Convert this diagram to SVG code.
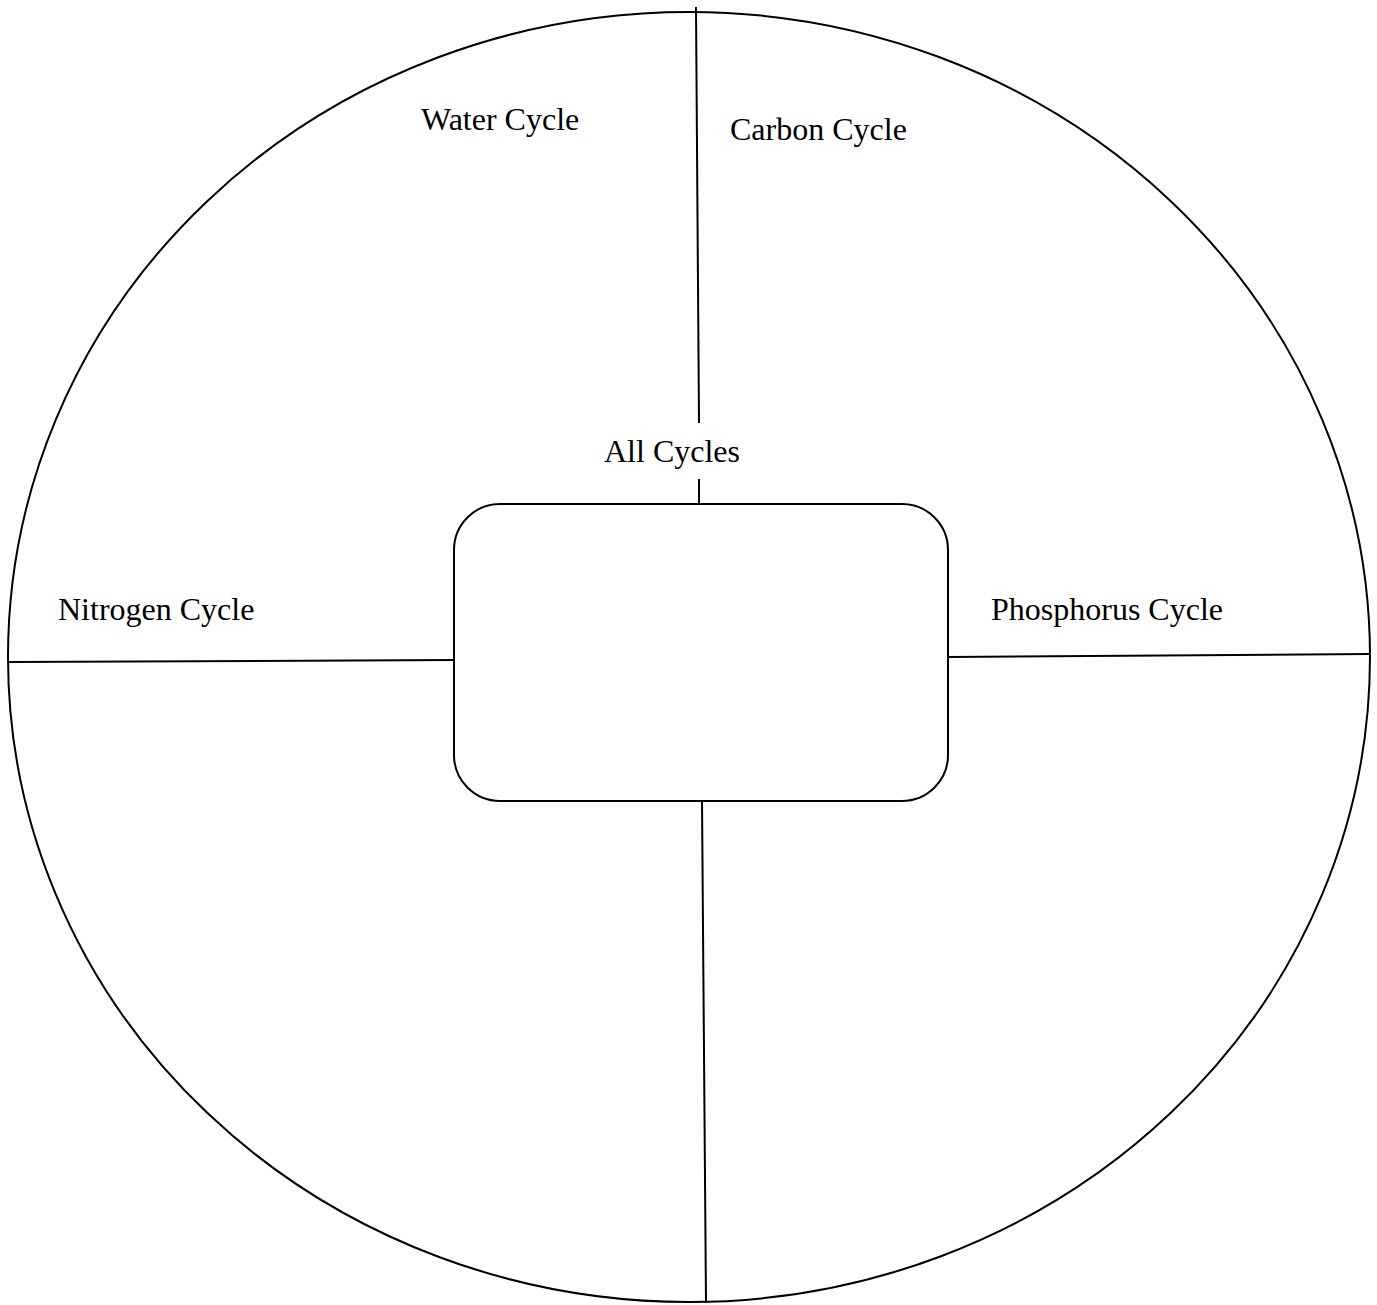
<svg xmlns="http://www.w3.org/2000/svg" width="1377" height="1305" viewBox="0 0 1377 1305">
<style>
.s{fill:none;stroke:#000;stroke-width:2}
.t{font-family:"Liberation Serif","Times New Roman",serif;font-size:32px;fill:#000}
</style>
<rect width="1377" height="1305" fill="#fff"/>
<g id="circle"><ellipse class="s" cx="689" cy="657" rx="681" ry="645"/></g>
<g id="connectors">
<line class="s" x1="696" y1="7" x2="699" y2="423"/>
<line class="s" x1="699" y1="479" x2="699" y2="504"/>
<line class="s" x1="9" y1="662" x2="454" y2="660"/>
<line class="s" x1="948" y1="657" x2="1370" y2="654"/>
<line class="s" x1="702" y1="801" x2="706" y2="1303"/>
</g>
<g id="center"><rect class="s" x="454" y="504" width="494" height="297" rx="46" ry="46" fill="#fff"/></g>
<g id="water"><text class="t" x="421" y="130">Water Cycle</text></g>
<g id="carbon"><text class="t" x="730" y="140">Carbon Cycle</text></g>
<g id="all"><text class="t" x="604" y="462">All Cycles</text></g>
<g id="nitrogen"><text class="t" x="58" y="620">Nitrogen Cycle</text></g>
<g id="phosphorus"><text class="t" x="991" y="620">Phosphorus Cycle</text></g>
</svg>
